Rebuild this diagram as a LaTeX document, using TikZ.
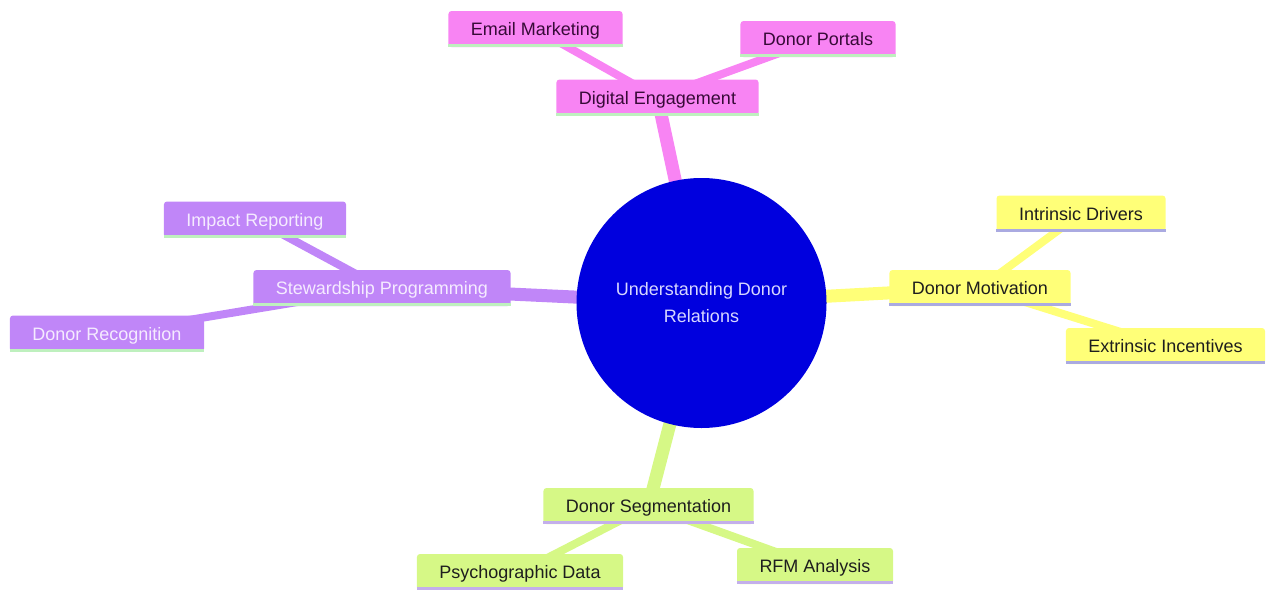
\documentclass[tikz,border=0pt]{standalone}
\usepackage{fontspec}
\setmainfont{Liberation Sans}
\usetikzlibrary{backgrounds}
\definecolor{cblue}{RGB}{0,0,222}
\definecolor{cpink}{RGB}{248,132,243}
\definecolor{cpurple}{RGB}{192,134,248}
\definecolor{cyellow}{RGB}{255,255,120}
\definecolor{cgreen}{RGB}{214,248,134}
\definecolor{ulgreen}{RGB}{190,240,190}
\definecolor{ullav}{RGB}{170,170,225}
\definecolor{ullav2}{RGB}{195,175,235}
\definecolor{troot}{RGB}{215,215,255}
\definecolor{tpink}{RGB}{55,10,55}
\definecolor{tpurple}{RGB}{245,235,255}
\definecolor{tdark}{RGB}{30,30,30}
\begin{document}
\begin{tikzpicture}[x=1pt,y=-1pt,
  every node/.style={font=\fontsize{18}{27}\selectfont},
  box/.style={rounded corners=3pt, inner xsep=22.5pt, inner ysep=0pt,
    minimum height=36pt, text height=13pt, text depth=0pt},
  pinkbox/.style={box, fill=cpink, text=tpink},
  purplebox/.style={box, fill=cpurple, text=tpurple},
  yellowbox/.style={box, fill=cyellow, text=tdark},
  greenbox/.style={box, fill=cgreen, text=tdark},
  edgeA/.style={line width=13pt},
  edgeB/.style={line width=8pt},
  uline/.style={line width=3pt}
]
\useasboundingbox (0,0) rectangle (1266,589);
\clip (0,0) rectangle (1266,589);

% root
\node[circle, fill=cblue, minimum size=250pt, inner sep=0pt, text=troot, align=center]
  (root) at (701.5,303) {Understanding Donor\\Relations};

% Digital Engagement branch
\node[pinkbox] (de) at (657.5,97.5) {Digital Engagement};
\node[pinkbox] (em) at (535.5,29) {Email Marketing};
\node[pinkbox] (dp) at (818,39) {Donor Portals};

% Stewardship branch
\node[purplebox] (sp) at (382,288) {Stewardship Programming};
\node[purplebox] (ir) at (255,219.5) {Impact Reporting};
\node[purplebox] (dr) at (107,333.5) {Donor Recognition};

% Motivation branch
\node[yellowbox] (dm) at (980,288) {Donor Motivation};
\node[yellowbox] (id) at (1081,213.5) {Intrinsic Drivers};
\node[yellowbox] (ei) at (1165.5,346) {Extrinsic Incentives};

% Segmentation branch
\node[greenbox] (ds) at (648.5,506) {Donor Segmentation};
\node[greenbox] (pd) at (520,572) {Psychographic Data};
\node[greenbox] (rfm) at (815,566) {RFM Analysis};

% underlines
\foreach \n/\c in {de/ulgreen,em/ulgreen,dp/ulgreen,sp/ulgreen,ir/ulgreen,dr/ulgreen,
                  dm/ullav,id/ullav,ei/ullav,ds/ullav2,pd/ullav2,rfm/ullav2}
  \draw[uline, \c] ([yshift=1.5pt]\n.south west) -- ([yshift=1.5pt]\n.south east);

\begin{pgfonlayer}{background}
  \draw[edgeA, cpink] (root.center) -- (de.center);
  \draw[edgeA, cpurple] (root.center) -- (sp.center);
  \draw[edgeA, cyellow] (root.center) -- (dm.center);
  \draw[edgeA, cgreen] (root.center) -- (ds.center);
  \draw[edgeB, cpink] (de.center) -- (em.center);
  \draw[edgeB, cpink] (de.center) -- (dp.center);
  \draw[edgeB, cpurple] (sp.center) -- (ir.center);
  \draw[edgeB, cpurple] (sp.center) -- (dr.center);
  \draw[edgeB, cyellow] (dm.center) -- (id.center);
  \draw[edgeB, cyellow] (dm.center) -- (ei.center);
  \draw[edgeB, cgreen] (ds.center) -- (pd.center);
  \draw[edgeB, cgreen] (ds.center) -- (rfm.center);
\end{pgfonlayer}
\end{tikzpicture}
\end{document}
